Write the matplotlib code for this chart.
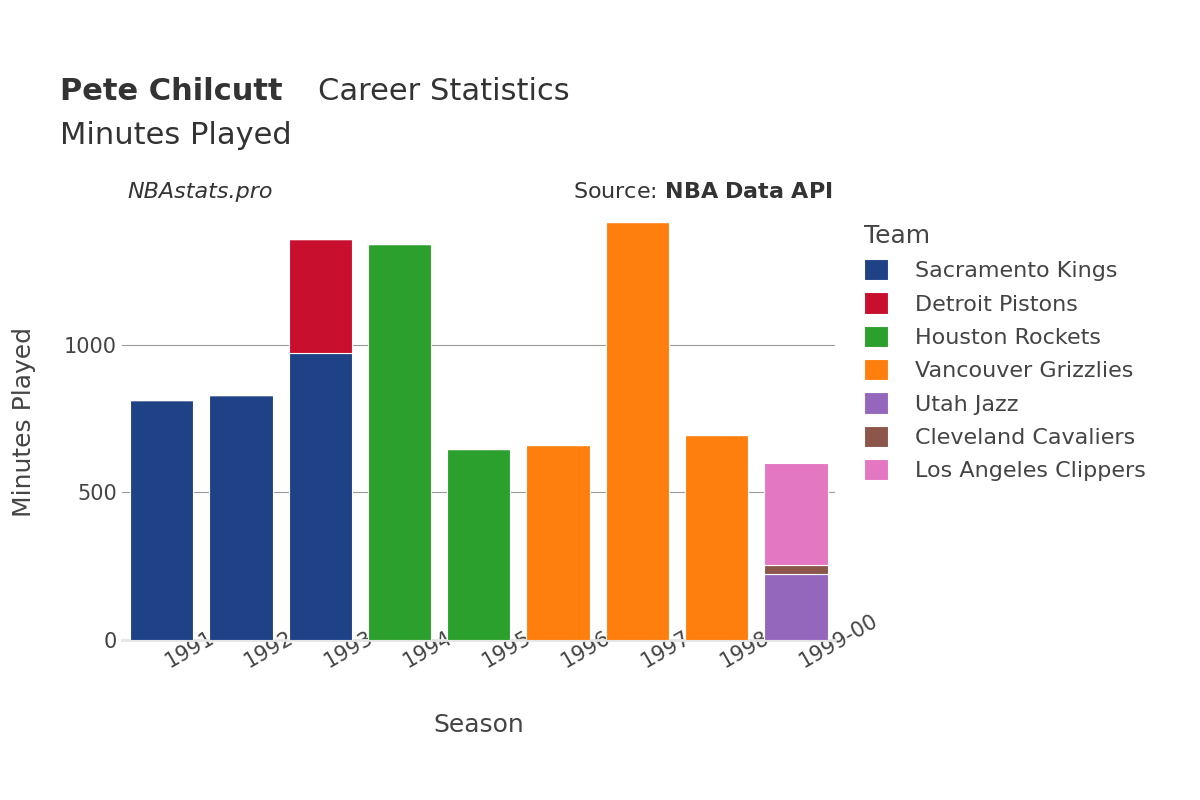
import matplotlib
matplotlib.use("Agg")
import matplotlib.pyplot as plt
import numpy as np

seasons = ["1991-92","1992-93","1993-94","1994-95","1995-96","1996-97","1997-98","1998-99","1999-00"]
teams = ["Sacramento Kings","Detroit Pistons","Houston Rockets","Vancouver Grizzlies","Utah Jazz","Cleveland Cavaliers","Los Angeles Clippers"]
colors = ["#1f4287","#c8102e","#2ca02c","#ff7f0e","#9467bd","#8c564b","#e377c2"]
minutes = {
    "Sacramento Kings":     [814, 831, 973, 0, 0, 0, 0, 0, 0],
    "Detroit Pistons":      [0, 0, 386, 0, 0, 0, 0, 0, 0],
    "Houston Rockets":      [0, 0, 0, 1342, 647, 0, 0, 0, 0],
    "Vancouver Grizzlies":  [0, 0, 0, 0, 0, 661, 1417, 695, 0],
    "Utah Jazz":            [0, 0, 0, 0, 0, 0, 0, 0, 224],
    "Cleveland Cavaliers":  [0, 0, 0, 0, 0, 0, 0, 0, 30],
    "Los Angeles Clippers": [0, 0, 0, 0, 0, 0, 0, 0, 346],
}

fig = plt.figure(figsize=(12, 8), dpi=100)
ax = fig.add_axes([0.1017, 0.2, 0.5945, 0.546])
x = np.arange(len(seasons))
bottom = np.zeros(len(seasons))
for t, c in zip(teams, colors):
    v = np.array(minutes[t], dtype=float)
    ax.bar(x, v, bottom=bottom, color=c, width=0.8, label=t, edgecolor="white", linewidth=0.8, zorder=3)
    bottom += v

ax.set_xlim(-0.5, len(seasons) - 0.5)
ax.set_ylim(0, 1480)
ax.set_yticks([0, 500, 1000])
ax.yaxis.grid(True, color="#999999", linewidth=0.8, zorder=0)
for s in ["top", "right", "left"]:
    ax.spines[s].set_visible(False)
ax.spines["bottom"].set_color("#e5e5e5")
ax.spines["bottom"].set_linewidth(2)
ax.tick_params(axis="both", length=0, labelsize=15, colors="#444444")
ax.set_xticks(x)
ax.set_xticklabels(seasons, rotation=30, ha="left", rotation_mode="anchor")
ax.tick_params(axis="x", pad=10)
ax.set_xlabel("Season", fontsize=18, color="#444444", labelpad=30)
ax.set_ylabel("Minutes Played", fontsize=18, color="#444444", labelpad=20)

fig.text(0.05, 0.875, "Pete Chilcutt", fontsize=22, fontweight="bold", color="#333333")
fig.text(0.265, 0.875, "Career Statistics", fontsize=22, color="#333333")
fig.text(0.05, 0.82, "Minutes Played", fontsize=22, color="#333333")
fig.text(0.106, 0.752, "NBAstats.pro", fontsize=16, style="italic", color="#333333")
fig.text(0.694, 0.752, "Source: $\\bf{NBA\\ Data\\ API}$", fontsize=16, color="#333333", ha="right")

leg = fig.legend(loc="upper left", bbox_to_anchor=(0.703, 0.745), frameon=False,
                 fontsize=16, title="Team", title_fontsize=18, handlelength=1.1,
                 handleheight=1.1, labelspacing=0.5, handletextpad=1.2)
leg._legend_box.align = "left"
for txt in leg.get_texts():
    txt.set_color("#444444")
leg.get_title().set_color("#444444")

fig.savefig("out.png", dpi=100)
